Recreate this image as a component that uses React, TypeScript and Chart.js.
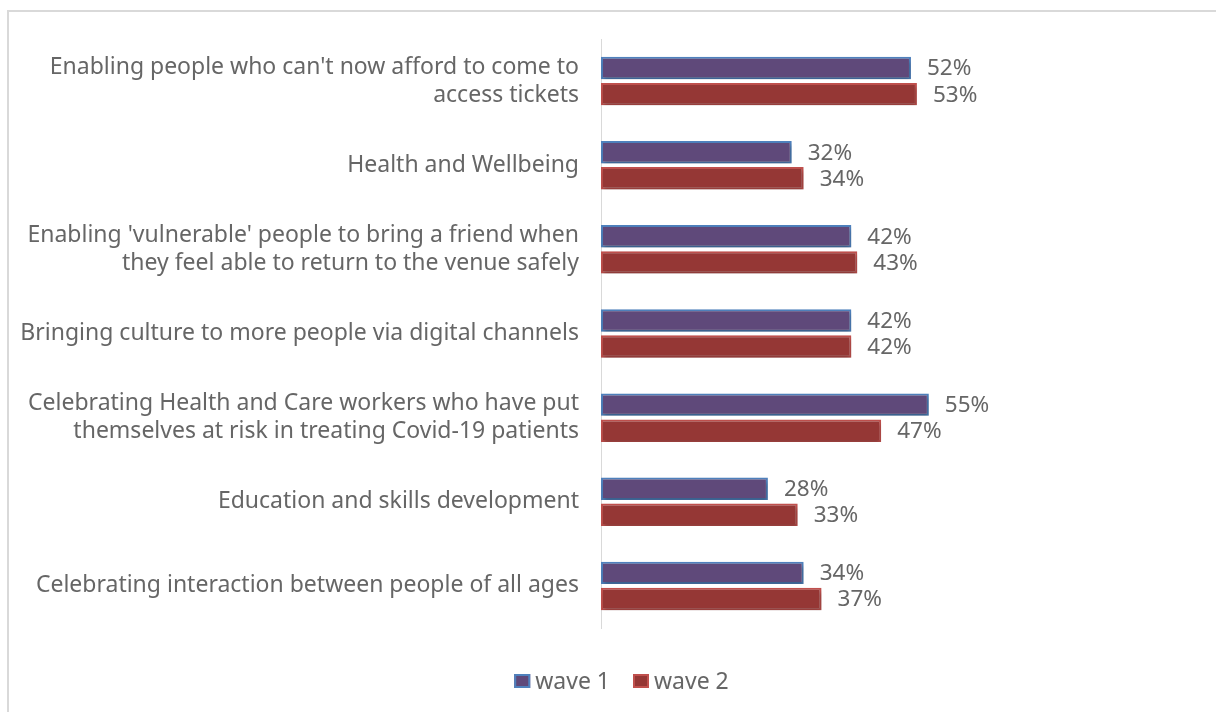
import React, { useEffect, useRef } from "react";
import { Chart, registerables } from "chart.js";

Chart.register(...registerables);

const categories: (string | string[])[] = [
  ["Enabling people who can't now afford to come to", "access tickets"],
  "Health and Wellbeing",
  ["Enabling 'vulnerable' people to bring a friend when", "they feel able to return to the venue safely"],
  "Bringing culture to more people via digital channels",
  ["Celebrating Health and Care workers who have put", "themselves at risk in treating Covid-19 patients"],
  "Education and skills development",
  "Celebrating interaction between people of all ages",
];

const seriesNames = ["wave 1", "wave 2"];
const wave1 = [52, 32, 42, 42, 55, 28, 34];
const wave2 = [53, 34, 43, 42, 47, 33, 37];

const FONT = "'Noto Sans', sans-serif";
const TEXT = "#666666";

export default function App() {
  const ref = useRef<HTMLCanvasElement>(null);

  useEffect(() => {
    if (!ref.current) return;
    const shadowPlugin = {
      id: "barShadow",
      beforeDatasetDraw(chart: any) {
        const c = chart.ctx;
        c.save();
        c.shadowColor = "rgba(0,0,0,0.28)";
        c.shadowBlur = 4;
        c.shadowOffsetX = 1;
        c.shadowOffsetY = 3;
      },
      afterDatasetDraw(chart: any) {
        chart.ctx.restore();
      },
    };
    const labelPlugin = {
      id: "valueLabels",
      afterDatasetsDraw(chart: any) {
        const c = chart.ctx;
        c.save();
        c.font = `22.5px ${FONT}`;
        c.fillStyle = TEXT;
        c.textAlign = "left";
        c.textBaseline = "middle";
        chart.data.datasets.forEach((ds: any, i: number) => {
          const meta = chart.getDatasetMeta(i);
          meta.data.forEach((el: any, j: number) => {
            c.fillText(`${ds.data[j]}%`, el.x + 16, el.y + 1);
          });
        });
        c.restore();
      },
    };
    const legendPlugin = {
      id: "customLegend",
      afterDraw(chart: any) {
        const c = chart.ctx;
        c.save();
        c.font = `23px ${FONT}`;
        c.textBaseline = "middle";
        c.textAlign = "left";
        const boxW = 16, boxH = 14, gap = 5, itemGap = 23;
        const items = chart.data.datasets.map((ds: any) => ({
          text: ds.label,
          fill: ds.backgroundColor,
          stroke: ds.borderColor,
          w: boxW + gap + c.measureText(ds.label).width,
        }));
        const total = items.reduce((s: number, it: any) => s + it.w, 0) + itemGap * (items.length - 1);
        let x = chart.width / 2 - total / 2;
        const cy = chart.chartArea.bottom + 53;
        items.forEach((it: any) => {
          c.fillStyle = it.fill;
          c.fillRect(x, cy - boxH / 2, boxW, boxH);
          c.strokeStyle = it.stroke;
          c.lineWidth = 2;
          c.strokeRect(x + 1, cy - boxH / 2 + 1, boxW - 2, boxH - 2);
          c.fillStyle = TEXT;
          c.fillText(it.text, x + boxW + gap, cy + 1);
          x += it.w + itemGap;
        });
        c.restore();
      },
    };

    const chart = new Chart(ref.current, {
      type: "bar",
      data: {
        labels: categories,
        datasets: [
          {
            label: seriesNames[0],
            data: wave1,
            backgroundColor: "#5f497a",
            borderColor: "#4f81bd",
            borderWidth: 2,
            borderSkipped: false,
            categoryPercentage: 0.62,
            barPercentage: 0.86,
          },
          {
            label: seriesNames[1],
            data: wave2,
            backgroundColor: "#953735",
            borderColor: "#c0504d",
            borderWidth: 2,
            borderSkipped: false,
            categoryPercentage: 0.62,
            barPercentage: 0.86,
          },
        ],
      },
      options: {
        indexAxis: "y",
        responsive: false,
        animation: false,
        devicePixelRatio: 1,
        layout: { padding: { top: 39, left: 0, right: 0, bottom: 84 } },
        scales: {
          x: {
            min: 0,
            max: 107.7,
            display: false,
          },
          y: {
            grid: { display: false, drawTicks: false },
            border: { display: true, color: "#d9d9d9", width: 1 },
            ticks: {
              color: TEXT,
              font: { family: FONT, size: 23, lineHeight: 1.217 },
              padding: 22,
              autoSkip: false,
            },
            afterFit(s: any) {
              s.width = 601;
            },
          },
        },
        plugins: {
          legend: { display: false },
          tooltip: { enabled: false },
        },
      } as any,
      plugins: [shadowPlugin, labelPlugin, legendPlugin],
    });
    return () => chart.destroy();
  }, []);

  return (
    <div
      style={{
        position: "absolute",
        left: 0,
        top: 0,
        width: 1216,
        height: 712,
        overflow: "hidden",
        background: "#ffffff",
      }}
    >
      <div
        style={{
          position: "absolute",
          left: 7,
          top: 10,
          width: 1250,
          height: 730,
          border: "2px solid #d9d9d9",
          boxSizing: "border-box",
        }}
      />
      <canvas
        ref={ref}
        width={1243}
        height={712}
        style={{ position: "absolute", left: 0, top: 0, width: 1243, height: 712 }}
      />
    </div>
  );
}
